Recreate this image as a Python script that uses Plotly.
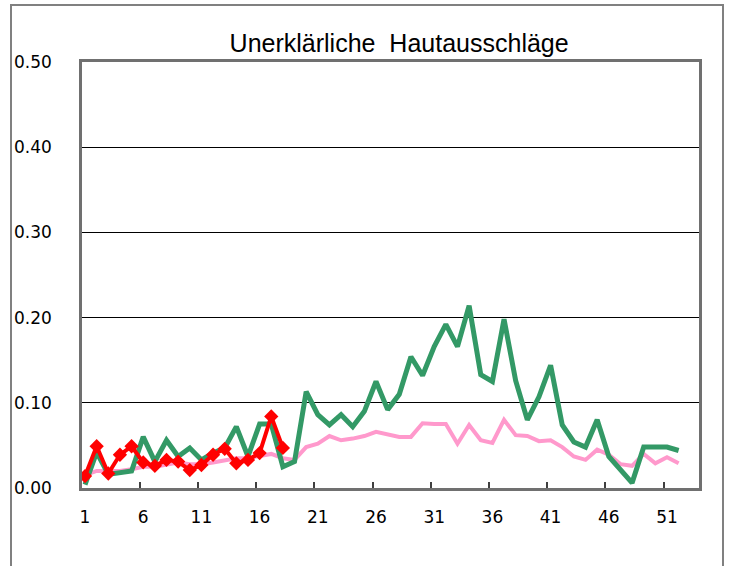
import plotly.graph_objects as go

# weeks 1..52
weeks = list(range(1, 53))

green_vals = [0.004, 0.042, 0.016, 0.018, 0.020, 0.060, 0.031, 0.056, 0.037, 0.047,
              0.033, 0.041, 0.047, 0.072, 0.037, 0.075, 0.075, 0.025, 0.031, 0.113,
              0.086, 0.074, 0.086, 0.072, 0.090, 0.125, 0.092, 0.110, 0.154, 0.132,
              0.166, 0.192, 0.166, 0.214, 0.133, 0.125, 0.198, 0.126, 0.080, 0.107,
              0.144, 0.074, 0.054, 0.048, 0.080, 0.037, 0.022, 0.006, 0.048, 0.048,
              0.048, 0.044]

pink_vals = [0.015, 0.020, 0.020, 0.020, 0.022, 0.025, 0.025, 0.028, 0.030, 0.028,
             0.028, 0.030, 0.033, 0.035, 0.035, 0.037, 0.040, 0.035, 0.033, 0.048,
             0.052, 0.061, 0.056, 0.058, 0.061, 0.066, 0.063, 0.060, 0.060, 0.076,
             0.075, 0.075, 0.052, 0.074, 0.056, 0.053, 0.080, 0.062, 0.061, 0.055,
             0.056, 0.048, 0.037, 0.033, 0.045, 0.039, 0.028, 0.026, 0.040, 0.029,
             0.036, 0.029]

red_weeks = list(range(1, 19))
red_vals = [0.014, 0.049, 0.017, 0.039, 0.049, 0.030, 0.026, 0.033, 0.031, 0.021,
            0.027, 0.039, 0.046, 0.029, 0.033, 0.041, 0.084, 0.047]

tick_weeks = [1, 6, 11, 16, 21, 26, 31, 36, 41, 46, 51]
y_ticks = [0.0, 0.1, 0.2, 0.3, 0.4, 0.5]
y_ticktext = ["0.00", "0.10", "0.20", "0.30", "0.40", "0.50"]

fig = go.Figure()
fig.add_trace(go.Scatter(x=weeks, y=pink_vals, mode="lines",
                         line=dict(color="#FF99CC", width=4)))
fig.add_trace(go.Scatter(x=weeks, y=green_vals, mode="lines",
                         line=dict(color="#339966", width=5)))
fig.add_trace(go.Scatter(x=red_weeks, y=red_vals, mode="lines+markers",
                         line=dict(color="#FF0000", width=4),
                         marker=dict(symbol="diamond", size=11, color="#FF0000")))

fig.update_layout(
    width=731, height=566,
    margin=dict(l=82, r=32, t=62, b=78),
    paper_bgcolor="white", plot_bgcolor="white",
    showlegend=False,
    title=dict(text="Unerklärliche  Hautausschläge", x=0.514, xref="paper",
               y=1 - 43 / 566, yref="container", yanchor="middle",
               font=dict(family="Liberation Sans", size=25, color="black")),
    font=dict(family="DejaVu Sans", size=17, color="black"),
)

fig.update_xaxes(range=[0.74, 53.75], tickvals=tick_weeks,
                 ticktext=[str(t) for t in tick_weeks],
                 ticks="", showgrid=False, zeroline=False,
                 showline=True, linecolor="#707070", linewidth=2.5, mirror=True,
                 ticklabelstandoff=12,
                 minor=dict(tickvals=[t - 0.3 for t in tick_weeks[1:]],
                            ticks="inside", ticklen=6, tickcolor="#404040",
                            tickwidth=1.5, showgrid=False))
fig.update_yaxes(range=[0, 0.5], tickvals=y_ticks, ticktext=y_ticktext,
                 ticks="", showgrid=True, gridcolor="black", gridwidth=1,
                 zeroline=False,
                 showline=True, linecolor="#707070", linewidth=2.5, mirror=True,
                 ticklabelstandoff=24)

# outer chart frame
fig.add_shape(type="rect", xref="paper", yref="paper",
              x0=(11 - 82) / 617, x1=(723 - 82) / 617,
              y0=-0.25, y1=(488 - 5) / 426,
              line=dict(color="#808080", width=2), layer="below")

# page has a default body margin; drop it so the figure sits at 0,0
fig.write_html("out.html", config={"displayModeBar": False},
               post_script="document.body.style.margin='0px';")
